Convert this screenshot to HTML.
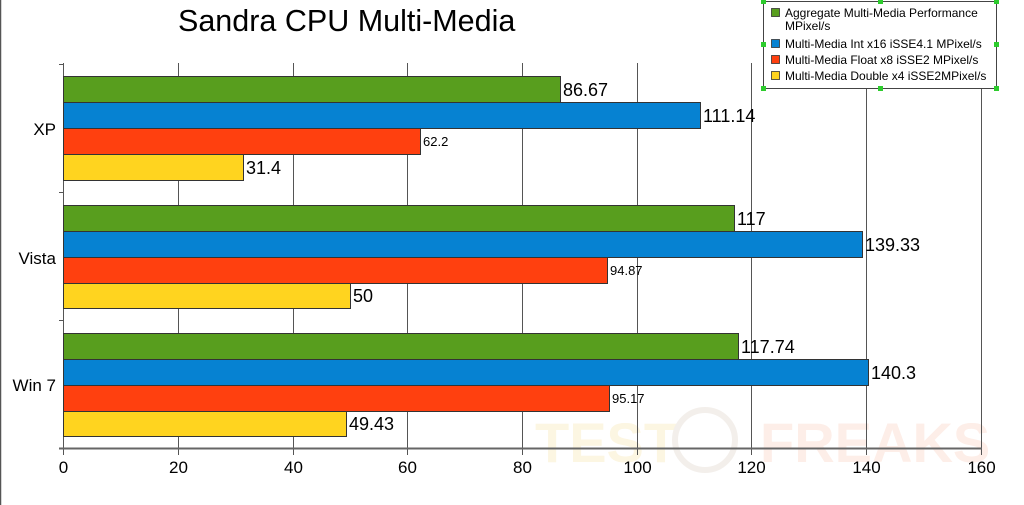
<!DOCTYPE html>
<html><head><meta charset="utf-8"><style>
html,body{margin:0;padding:0;background:#fff;width:1024px;height:505px;overflow:hidden}
svg{display:block;font-family:"Liberation Sans",Arial,sans-serif}
</style></head><body>
<svg width="1024" height="505" viewBox="0 0 1024 505" xmlns="http://www.w3.org/2000/svg">
<rect x="0" y="0" width="1024" height="505" fill="#fff"/>
<line x1="0.5" y1="0" x2="0.5" y2="505" stroke="#555" stroke-width="1.5"/>
<text x="535" y="462" font-size="56" font-weight="bold" fill="#fcf6e2">TEST</text>
<circle cx="705" cy="440" r="30" fill="none" stroke="#f3efeb" stroke-width="6"/>
<text x="760" y="462" font-size="56" font-weight="bold" fill="#fdeee8">FREAKS</text>
<text x="178" y="31" font-size="30.5" fill="#000">Sandra CPU Multi-Media</text>
<g stroke="#555" stroke-width="1">
<line x1="178.5" y1="63" x2="178.5" y2="455"/>
<line x1="293.5" y1="63" x2="293.5" y2="455"/>
<line x1="407.5" y1="63" x2="407.5" y2="455"/>
<line x1="522.5" y1="63" x2="522.5" y2="455"/>
<line x1="637.5" y1="63" x2="637.5" y2="455"/>
<line x1="751.5" y1="63" x2="751.5" y2="455"/>
<line x1="866.5" y1="63" x2="866.5" y2="455"/>
<line x1="981.5" y1="63" x2="981.5" y2="455"/>
</g>
<line x1="63.5" y1="63" x2="63.5" y2="455" stroke="#555" stroke-width="1"/>
<line x1="59" y1="448.5" x2="982" y2="448.5" stroke="#666" stroke-width="2"/>
<g stroke="#555"><line x1="59" y1="64.5" x2="64" y2="64.5"/><line x1="59" y1="192.5" x2="64" y2="192.5"/><line x1="59" y1="320.5" x2="64" y2="320.5"/></g>
<g stroke="#333" stroke-width="1">
<rect x="63.5" y="76.5" width="497" height="26" fill="#589e1e"/>
<rect x="63.5" y="102.5" width="637" height="26" fill="#0682d2"/>
<rect x="63.5" y="128.5" width="357" height="26" fill="#ff400f"/>
<rect x="63.5" y="154.5" width="180" height="26" fill="#ffd41f"/>
<rect x="63.5" y="205.5" width="671" height="26" fill="#589e1e"/>
<rect x="63.5" y="231.5" width="799" height="26" fill="#0682d2"/>
<rect x="63.5" y="257.5" width="544" height="26" fill="#ff400f"/>
<rect x="63.5" y="283.5" width="287" height="25" fill="#ffd41f"/>
<rect x="63.5" y="333.5" width="675" height="26" fill="#589e1e"/>
<rect x="63.5" y="359.5" width="805" height="26" fill="#0682d2"/>
<rect x="63.5" y="385.5" width="546" height="26" fill="#ff400f"/>
<rect x="63.5" y="411.5" width="283" height="25" fill="#ffd41f"/>
</g>
<g font-size="18" fill="#000">
<text x="563" y="96">86.67</text>
<text x="703" y="122">111.14</text>
<text x="246" y="174">31.4</text>
<text x="737" y="225">117</text>
<text x="865" y="251">139.33</text>
<text x="353" y="302">50</text>
<text x="741" y="353">117.74</text>
<text x="871" y="379">140.3</text>
<text x="349" y="430">49.43</text>
</g>
<g font-size="13" fill="#000">
<text x="423" y="146">62.2</text>
<text x="610" y="275">94.87</text>
<text x="612" y="403">95.17</text>
</g>
<g font-size="17" fill="#000" text-anchor="end">
<text x="56" y="135">XP</text>
<text x="56" y="264">Vista</text>
<text x="56" y="391">Win 7</text>
</g>
<g font-size="17" fill="#000" text-anchor="middle">
<text x="63.5" y="473">0</text>
<text x="178.5" y="473">20</text>
<text x="293.5" y="473">40</text>
<text x="407.5" y="473">60</text>
<text x="522.5" y="473">80</text>
<text x="637.5" y="473">100</text>
<text x="751.5" y="473">120</text>
<text x="866.5" y="473">140</text>
<text x="981.5" y="473">160</text>
</g>
<rect x="763.5" y="1.5" width="233" height="87" fill="#fff" stroke="#444" stroke-width="1"/>
<g stroke="#333" stroke-width="0.8">
<rect x="771.5" y="8.5" width="8" height="8" fill="#589e1e"/>
<rect x="771.5" y="39.5" width="8" height="8" fill="#0682d2"/>
<rect x="771.5" y="55.5" width="8" height="8" fill="#ff400f"/>
<rect x="771.5" y="71.5" width="8" height="8" fill="#ffd41f"/>
</g>
<g font-size="12" fill="#000">
<text x="785" y="17">Aggregate Multi-Media Performance</text>
<text x="785" y="30">MPixel/s</text>
<text x="785" y="48">Multi-Media Int x16 iSSE4.1 MPixel/s</text>
<text x="785" y="64">Multi-Media Float x8 iSSE2 MPixel/s</text>
<text x="785" y="80">Multi-Media Double x4 iSSE2MPixel/s</text>
</g>
<g fill="#2dcc2d">
<rect x="761" y="-1" width="5" height="5"/><rect x="878" y="-1" width="5" height="5"/><rect x="994" y="-1" width="5" height="5"/>
<rect x="761" y="42" width="5" height="5"/><rect x="994" y="42" width="5" height="5"/>
<rect x="761" y="86" width="5" height="5"/><rect x="878" y="86" width="5" height="5"/><rect x="994" y="86" width="5" height="5"/>
</g>
</svg>
</body></html>
